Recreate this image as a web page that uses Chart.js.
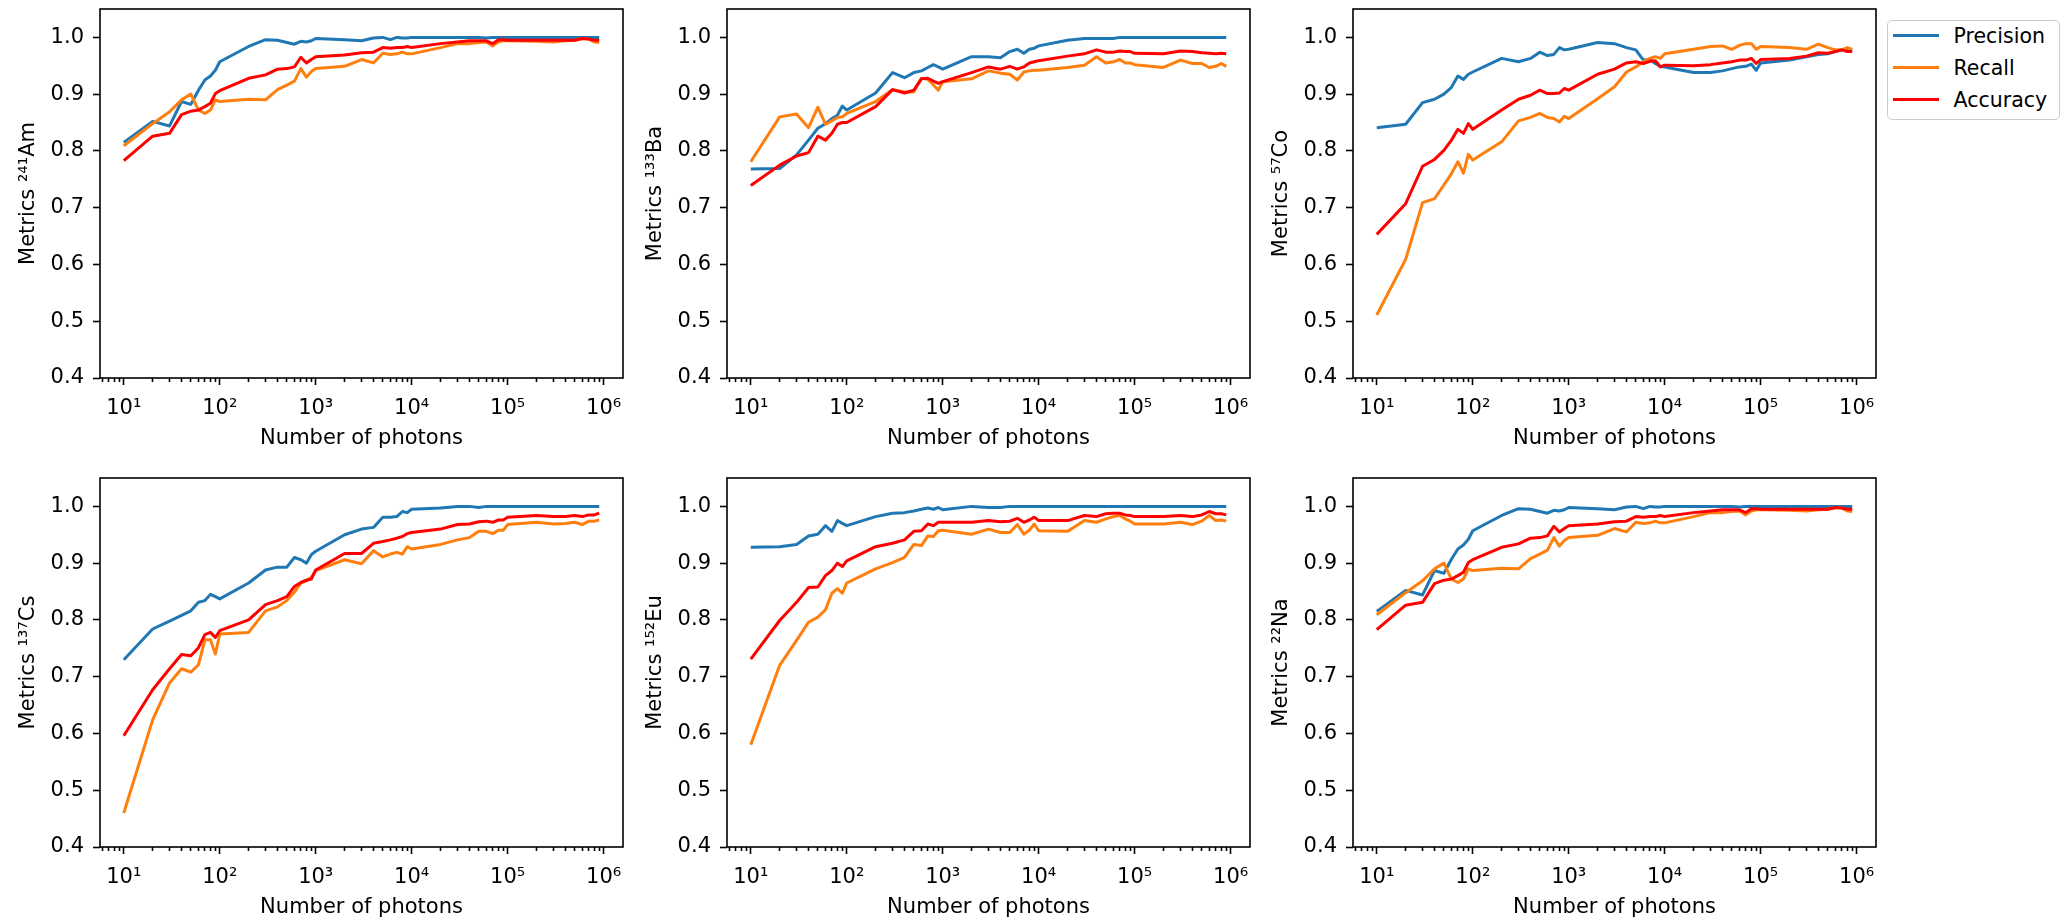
<!DOCTYPE html>
<html>
<head>
<meta charset="utf-8">
<title>Metrics vs number of photons</title>
<script src="https://cdn.jsdelivr.net/npm/chart.js@4.4.1/dist/chart.umd.min.js"></script>
<style>
  html, body { margin: 0; padding: 0; background: #ffffff; }
  body { position: relative; width: 2061px; height: 920px; overflow: hidden; font-family: "DejaVu Sans", sans-serif; }
  .panel { position: absolute; width: 626px; height: 452px; }
  #legend { position: absolute; left: 1887px; top: 20px; width: 173px; height: 100px; box-sizing: border-box;
            border: 1.5px solid #cccccc; border-radius: 5px; background: rgba(255, 255, 255, 0.8); }
  #legend .row { position: absolute; left: 0; width: 100%; height: 32px; }
  #legend .swatch { position: absolute; left: 4.5px; top: 14.5px; width: 46px; height: 3px; }
  #legend .name { position: absolute; left: 65.5px; top: 0; line-height: 32px; font-size: 20.5px; color: #000; white-space: nowrap; }
</style>
</head>
<body>
<div class="panel" id="panel1"><canvas id="chart1"></canvas></div>
<div class="panel" id="panel2"><canvas id="chart2"></canvas></div>
<div class="panel" id="panel3"><canvas id="chart3"></canvas></div>
<div class="panel" id="panel4"><canvas id="chart4"></canvas></div>
<div class="panel" id="panel5"><canvas id="chart5"></canvas></div>
<div class="panel" id="panel6"><canvas id="chart6"></canvas></div>
<div id="legend"></div>
<script>
// number of photons (x) shared by every panel
const photons = [10, 20, 30, 40, 50, 60, 70, 80, 90,
    100, 200, 300, 400, 500, 600, 700, 800, 900,
    1000, 2000, 3000, 4000, 5000, 6000, 7000, 8000, 9000,
    10000, 20000, 30000, 40000, 50000, 60000, 70000, 80000, 90000,
    100000, 200000, 300000, 400000, 500000, 600000, 700000, 800000, 900000];

const seriesNames = ['Precision', 'Recall', 'Accuracy'];
const seriesColors = ['#1f77b4', '#ff7f0e', '#ff0000'];

const yTicks = [0.4, 0.5, 0.6, 0.7, 0.8, 0.9, 1.0];
const xMajorTicks = [10, 100, 1000, 10000, 100000, 1000000];
const xMajorLabels = ['10¹', '10²', '10³', '10⁴', '10⁵', '10⁶'];
const xMinorSteps = [2, 3, 4, 5, 6, 7, 8, 9];

// 241Am
const amPrecision = [0.815, 0.852, 0.844, 0.887, 0.882, 0.907, 0.925, 0.932, 0.942,
    0.957, 0.984, 0.996, 0.995, 0.991, 0.988, 0.993, 0.992, 0.994,
    0.998, 0.996, 0.994, 0.999, 1.000, 0.996, 1.000, 0.999, 0.999,
    1.000, 1.000, 1.000, 1.000, 1.000, 0.999, 1.000, 1.000, 1.000,
    1.000, 1.000, 1.000, 1.000, 1.000, 1.000, 1.000, 1.000, 1.000];
const amRecall = [0.809, 0.848, 0.869, 0.890, 0.900, 0.872, 0.866, 0.872, 0.890,
    0.887, 0.891, 0.890, 0.908, 0.916, 0.923, 0.945, 0.930, 0.940,
    0.945, 0.949, 0.961, 0.955, 0.972, 0.970, 0.971, 0.974, 0.971,
    0.971, 0.982, 0.989, 0.989, 0.991, 0.992, 0.985, 0.992, 0.994,
    0.994, 0.993, 0.992, 0.994, 0.995, 0.998, 0.997, 0.992, 0.991];
const amAccuracy = [0.783, 0.826, 0.831, 0.864, 0.870, 0.872, 0.878, 0.884, 0.901,
    0.906, 0.928, 0.934, 0.944, 0.945, 0.948, 0.965, 0.955, 0.961,
    0.966, 0.969, 0.973, 0.974, 0.982, 0.981, 0.982, 0.982, 0.984,
    0.982, 0.989, 0.992, 0.994, 0.994, 0.994, 0.989, 0.996, 0.996,
    0.995, 0.995, 0.995, 0.995, 0.995, 0.998, 0.997, 0.995, 0.995];

// 133Ba
const baPrecision = [0.768, 0.769, 0.793, 0.819, 0.840, 0.848, 0.857, 0.863, 0.879,
    0.872, 0.902, 0.938, 0.929, 0.938, 0.941, 0.947, 0.952, 0.948,
    0.944, 0.966, 0.966, 0.964, 0.975, 0.979, 0.972, 0.979, 0.981,
    0.985, 0.995, 0.998, 0.998, 0.998, 0.998, 1.000, 1.000, 1.000,
    1.000, 1.000, 1.000, 1.000, 1.000, 1.000, 1.000, 1.000, 1.000];
const baRecall = [0.781, 0.860, 0.865, 0.841, 0.877, 0.847, 0.853, 0.859, 0.860,
    0.866, 0.887, 0.908, 0.904, 0.904, 0.928, 0.926, 0.916, 0.907,
    0.922, 0.927, 0.941, 0.937, 0.935, 0.925, 0.939, 0.941, 0.942,
    0.942, 0.947, 0.951, 0.966, 0.955, 0.957, 0.961, 0.955, 0.955,
    0.952, 0.947, 0.960, 0.954, 0.954, 0.947, 0.949, 0.954, 0.949];
const baAccuracy = [0.739, 0.775, 0.791, 0.797, 0.826, 0.819, 0.831, 0.847, 0.850,
    0.850, 0.878, 0.908, 0.902, 0.907, 0.927, 0.928, 0.923, 0.919,
    0.922, 0.938, 0.948, 0.944, 0.949, 0.944, 0.948, 0.955, 0.957,
    0.959, 0.967, 0.971, 0.978, 0.974, 0.974, 0.976, 0.975, 0.975,
    0.972, 0.971, 0.976, 0.975, 0.973, 0.972, 0.971, 0.972, 0.971];

// 57Co
const coPrecision = [0.841, 0.847, 0.885, 0.891, 0.900, 0.912, 0.932, 0.926, 0.935,
    0.939, 0.963, 0.957, 0.963, 0.974, 0.968, 0.970, 0.982, 0.978,
    0.979, 0.991, 0.989, 0.982, 0.978, 0.960, 0.961, 0.954, 0.949,
    0.948, 0.938, 0.938, 0.941, 0.945, 0.948, 0.949, 0.953, 0.942,
    0.955, 0.960, 0.966, 0.970, 0.971, 0.975, 0.978, 0.978, 0.978];
const coRecall = [0.511, 0.609, 0.709, 0.716, 0.740, 0.760, 0.781, 0.761, 0.794,
    0.784, 0.816, 0.853, 0.859, 0.866, 0.859, 0.857, 0.851, 0.861,
    0.857, 0.892, 0.913, 0.939, 0.948, 0.957, 0.963, 0.966, 0.963,
    0.971, 0.979, 0.984, 0.985, 0.979, 0.986, 0.989, 0.989, 0.979,
    0.984, 0.982, 0.979, 0.988, 0.982, 0.978, 0.978, 0.982, 0.979];
const coAccuracy = [0.653, 0.707, 0.773, 0.785, 0.801, 0.819, 0.838, 0.831, 0.848,
    0.838, 0.872, 0.891, 0.898, 0.907, 0.901, 0.901, 0.902, 0.910,
    0.907, 0.935, 0.944, 0.955, 0.957, 0.954, 0.958, 0.959, 0.948,
    0.951, 0.950, 0.952, 0.955, 0.957, 0.960, 0.960, 0.963, 0.954,
    0.961, 0.963, 0.967, 0.973, 0.972, 0.975, 0.978, 0.975, 0.975];

// 137Cs
const csPrecision = [0.730, 0.784, 0.798, 0.808, 0.816, 0.831, 0.834, 0.845, 0.841,
    0.837, 0.865, 0.888, 0.893, 0.893, 0.910, 0.906, 0.900, 0.915,
    0.921, 0.950, 0.960, 0.963, 0.981, 0.981, 0.982, 0.991, 0.989,
    0.995, 0.997, 1.000, 1.000, 0.998, 1.000, 1.000, 1.000, 1.000,
    1.000, 1.000, 1.000, 1.000, 1.000, 1.000, 1.000, 1.000, 1.000];
const csRecall = [0.460, 0.624, 0.689, 0.714, 0.708, 0.721, 0.765, 0.765, 0.740,
    0.775, 0.778, 0.816, 0.823, 0.834, 0.849, 0.865, 0.869, 0.875,
    0.887, 0.906, 0.899, 0.922, 0.911, 0.916, 0.919, 0.916, 0.929,
    0.925, 0.933, 0.941, 0.945, 0.956, 0.956, 0.952, 0.958, 0.958,
    0.968, 0.972, 0.969, 0.970, 0.972, 0.968, 0.974, 0.974, 0.976];
const csAccuracy = [0.596, 0.677, 0.714, 0.739, 0.737, 0.751, 0.774, 0.778, 0.769,
    0.781, 0.800, 0.827, 0.834, 0.841, 0.859, 0.866, 0.870, 0.872,
    0.888, 0.917, 0.917, 0.935, 0.938, 0.941, 0.944, 0.947, 0.952,
    0.954, 0.960, 0.968, 0.969, 0.973, 0.974, 0.972, 0.976, 0.976,
    0.981, 0.984, 0.982, 0.982, 0.984, 0.982, 0.985, 0.985, 0.988];

// 152Eu
const euPrecision = [0.928, 0.929, 0.933, 0.948, 0.951, 0.966, 0.956, 0.975, 0.970,
    0.966, 0.982, 0.988, 0.989, 0.992, 0.995, 0.997, 0.995, 0.998,
    0.994, 1.000, 0.998, 0.998, 1.000, 1.000, 1.000, 1.000, 1.000,
    1.000, 1.000, 1.000, 1.000, 1.000, 1.000, 1.000, 1.000, 1.000,
    1.000, 1.000, 1.000, 1.000, 1.000, 1.000, 1.000, 1.000, 1.000];
const euRecall = [0.580, 0.720, 0.764, 0.796, 0.805, 0.818, 0.847, 0.855, 0.847,
    0.865, 0.890, 0.901, 0.910, 0.933, 0.931, 0.948, 0.947, 0.957,
    0.958, 0.951, 0.960, 0.954, 0.954, 0.968, 0.951, 0.958, 0.969,
    0.957, 0.956, 0.975, 0.972, 0.978, 0.982, 0.984, 0.978, 0.974,
    0.969, 0.969, 0.972, 0.968, 0.974, 0.984, 0.975, 0.976, 0.974];
const euAccuracy = [0.731, 0.799, 0.831, 0.857, 0.858, 0.878, 0.887, 0.900, 0.894,
    0.904, 0.929, 0.935, 0.941, 0.956, 0.957, 0.969, 0.966, 0.972,
    0.972, 0.972, 0.975, 0.973, 0.974, 0.979, 0.972, 0.976, 0.981,
    0.975, 0.975, 0.984, 0.982, 0.987, 0.988, 0.988, 0.985, 0.984,
    0.982, 0.982, 0.984, 0.982, 0.985, 0.991, 0.987, 0.987, 0.985];

// 22Na
const naPrecision = [0.815, 0.852, 0.844, 0.887, 0.882, 0.907, 0.925, 0.932, 0.942,
    0.957, 0.984, 0.996, 0.995, 0.991, 0.988, 0.993, 0.992, 0.994,
    0.998, 0.996, 0.994, 0.999, 1.000, 0.996, 1.000, 0.999, 0.999,
    1.000, 1.000, 1.000, 1.000, 1.000, 0.999, 1.000, 1.000, 1.000,
    1.000, 1.000, 1.000, 1.000, 1.000, 1.000, 1.000, 1.000, 1.000];
const naRecall = [0.809, 0.848, 0.869, 0.890, 0.900, 0.872, 0.866, 0.872, 0.890,
    0.887, 0.891, 0.890, 0.908, 0.916, 0.923, 0.945, 0.930, 0.940,
    0.945, 0.949, 0.961, 0.955, 0.972, 0.970, 0.971, 0.974, 0.971,
    0.971, 0.982, 0.989, 0.989, 0.991, 0.992, 0.985, 0.992, 0.994,
    0.994, 0.993, 0.992, 0.994, 0.995, 0.998, 0.997, 0.992, 0.991];
const naAccuracy = [0.783, 0.826, 0.831, 0.864, 0.870, 0.872, 0.878, 0.884, 0.901,
    0.906, 0.928, 0.934, 0.944, 0.945, 0.948, 0.965, 0.955, 0.961,
    0.966, 0.969, 0.973, 0.974, 0.982, 0.981, 0.982, 0.982, 0.984,
    0.982, 0.989, 0.992, 0.994, 0.994, 0.994, 0.989, 0.996, 0.996,
    0.995, 0.995, 0.995, 0.995, 0.995, 0.998, 0.997, 0.995, 0.995];

const isotopeLabels = ['Metrics ²⁴¹Am', 'Metrics ¹³³Ba', 'Metrics ⁵⁷Co',
    'Metrics ¹³⁷Cs', 'Metrics ¹⁵²Eu', 'Metrics ²²Na'];

document.addEventListener("DOMContentLoaded", function () {
    Chart.defaults.font.family = '"DejaVu Sans", sans-serif';
    Chart.defaults.font.size = 21;
    Chart.defaults.color = '#000';

    const panels = [
        [amPrecision, amRecall, amAccuracy],
        [baPrecision, baRecall, baAccuracy],
        [coPrecision, coRecall, coAccuracy],
        [csPrecision, csRecall, csAccuracy],
        [euPrecision, euRecall, euAccuracy],
        [naPrecision, naRecall, naAccuracy]
    ];

    // matplotlib-like 5% margin on a log axis
    const lo = Math.log10(photons[0]);
    const hi = Math.log10(photons[photons.length - 1]);
    const xMin = Math.pow(10, lo - 0.05 * (hi - lo));
    const xMax = Math.pow(10, hi + 0.05 * (hi - lo));

    // all major + minor tick positions inside the axis
    const xTicks = [];
    for (let e = 0; e <= 6; e++) {
        [1].concat(xMinorSteps).forEach(function (s) {
            const v = s * Math.pow(10, e);
            if (v >= xMin && v <= xMax) xTicks.push(v);
        });
    }
    const isMajor = v => xMajorTicks.some(m => Math.abs(m - v) / m < 1e-9);

    // axes box drawn on all four sides
    const frame = {
        id: 'frame',
        afterDraw(chart) {
            const a = chart.chartArea;
            const c = chart.ctx;
            c.save();
            c.strokeStyle = '#000';
            c.lineWidth = 1.6;
            c.strokeRect(a.left, a.top, a.right - a.left, a.bottom - a.top);
            c.restore();
        }
    };

    const colLeft = [0, 627, 1253];
    const rowTop = [0, 469];

    panels.forEach(function (series, k) {
        const box = document.getElementById('panel' + (k + 1));
        box.style.left = colLeft[k % 3] + 'px';
        box.style.top = rowTop[Math.floor(k / 3)] + 'px';

        const ctx = document.getElementById('chart' + (k + 1)).getContext('2d');
        new Chart(ctx, {
            type: 'line',
            data: {
                labels: photons,
                datasets: series.map(function (vals, i) {
                    return {
                        label: seriesNames[i],
                        data: photons.map((x, j) => ({ x: x, y: vals[j] })),
                        borderColor: seriesColors[i],
                        backgroundColor: seriesColors[i],
                        borderWidth: 3,
                        borderJoinStyle: 'round',
                        pointRadius: 0,
                        tension: 0,
                        fill: false,
                        order: 2 - i
                    };
                })
            },
            options: {
                responsive: true,
                maintainAspectRatio: false,
                animation: false,
                layout: { padding: { top: 9, right: 3, left: 0, bottom: 0 } },
                plugins: { legend: { display: false }, tooltip: { enabled: false } },
                scales: {
                    x: {
                        type: 'logarithmic',
                        min: xMin,
                        max: xMax,
                        afterBuildTicks: s => { s.ticks = xTicks.map(v => ({ value: v })); },
                        afterFit: s => {
                            s.height = 74;
                            s.paddingLeft = 0; s.paddingRight = 0; s.paddingTop = 0; s.paddingBottom = 0;
                        },
                        ticks: {
                            autoSkip: false,
                            maxRotation: 0,
                            minRotation: 0,
                            padding: 11,
                            color: '#000',
                            callback: function (v) {
                                const i = xMajorTicks.findIndex(m => Math.abs(m - v) / m < 1e-9);
                                return i >= 0 ? xMajorLabels[i] : '';
                            }
                        },
                        grid: {
                            drawOnChartArea: false,
                            drawTicks: true,
                            tickLength: 7,
                            tickWidth: 1.6,
                            tickColor: '#000',
                            tickBorderDash: c => (c.tick && !isMajor(c.tick.value)) ? [4, 30] : []
                        },
                        border: { display: false },
                        title: {
                            display: true,
                            text: 'Number of photons',
                            color: '#000',
                            padding: { top: 0, bottom: 0.5 }
                        }
                    },
                    y: {
                        min: 0.4,
                        max: 1.05,
                        afterBuildTicks: s => { s.ticks = yTicks.map(v => ({ value: v })); },
                        afterFit: s => {
                            s.width = 100;
                            s.paddingLeft = 0; s.paddingRight = 0; s.paddingTop = 0; s.paddingBottom = 0;
                        },
                        ticks: {
                            padding: 9,
                            color: '#000',
                            callback: v => Number(v).toFixed(1)
                        },
                        grid: {
                            drawOnChartArea: false,
                            drawTicks: true,
                            tickLength: 7,
                            tickWidth: 1.6,
                            tickColor: '#000'
                        },
                        border: { display: false },
                        title: {
                            display: true,
                            text: isotopeLabels[k],
                            color: '#000',
                            padding: { top: 16, bottom: 0 }
                        }
                    }
                }
            },
            plugins: [frame]
        });
    });

    // legend to the right of the top-right panel
    const legend = document.getElementById('legend');
    seriesNames.forEach(function (name, i) {
        const row = document.createElement('div');
        row.className = 'row';
        row.style.top = (i * 32 - 1.5) + 'px';
        const sw = document.createElement('span');
        sw.className = 'swatch';
        sw.style.background = seriesColors[i];
        const txt = document.createElement('span');
        txt.className = 'name';
        txt.textContent = name;
        row.appendChild(sw);
        row.appendChild(txt);
        legend.appendChild(row);
    });
});
</script>
</body>
</html>
